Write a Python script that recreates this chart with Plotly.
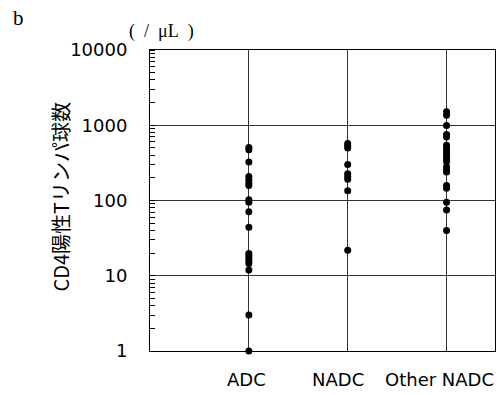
import plotly.graph_objects as go

categories = ["ADC", "NADC", "Other NADC"]
adc_values = [505, 474, 324, 209, 189, 170, 158, 102, 95, 71, 44, 19.8, 18.5, 17.2, 15.8, 14.6, 11.9, 3.0, 1.0]
nadc_values = [570, 530, 499, 302, 227, 209, 192, 135, 21.8]
other_values = [1506, 1360, 990, 751, 698, 541, 499, 455, 419, 386, 356, 328, 278, 256, 239, 158, 146, 95, 75, 40]
y_ticks = [1, 10, 100, 1000, 10000]
y_title = "CD4陽性Tリンパ球数"

series = [adc_values, nadc_values, other_values]
positions = [1, 2, 3]

fig = go.Figure()
for pos, vals in zip(positions, series):
    fig.add_trace(go.Scatter(
        x=[pos] * len(vals), y=vals, mode="markers",
        marker=dict(color="black", size=7),
        cliponaxis=False, showlegend=False, hoverinfo="skip",
    ))

tick_font = dict(family="DejaVu Sans", size=18, color="black")
fig.update_layout(
    width=499, height=395,
    margin=dict(l=150, r=4, t=50, b=44),
    paper_bgcolor="white", plot_bgcolor="white",
    font=dict(family="Noto Sans CJK JP", color="black", size=16),
    xaxis=dict(
        range=[0, 3.49], tickmode="array", tickvals=positions, ticktext=categories,
        showticklabels=False,
        showgrid=True, gridcolor="#333", gridwidth=1,
        showline=True, linecolor="black", linewidth=1, mirror=True,
        ticks="", zeroline=False,
    ),
    yaxis=dict(
        type="log", range=[0, 4], tickmode="array", tickvals=y_ticks,
        ticktext=[str(v) for v in y_ticks],
        showgrid=True, gridcolor="#333", gridwidth=1,
        showline=True, linecolor="black", linewidth=1, mirror=True,
        ticks="", ticklabelstandoff=18, tickfont=tick_font,
        minor=dict(ticks="inside", ticklen=5, tickcolor="black", dtick="D1", showgrid=False),
    ),
)
fig.add_annotation(text=y_title, xref="paper", yref="paper", x=-0.258, y=0.513,
                   xanchor="center", yanchor="middle", textangle=-90, showarrow=False,
                   font=dict(family="Noto Sans CJK JP", size=20, color="black"))
label_shifts = [-2, -10, -7]
for pos, name, sh in zip(positions, categories, label_shifts):
    fig.add_annotation(text=name, x=pos, xref="x", y=-0.096, yref="paper",
                       xanchor="center", yanchor="middle", xshift=sh,
                       showarrow=False, font=tick_font)
fig.add_annotation(text="b", xref="paper", yref="paper", x=-0.403, y=1.1528, xanchor="left", yanchor="top",
                   showarrow=False, font=dict(family="Liberation Serif", size=21))
fig.add_annotation(text="(\u2002/\u2002μL\u2002)", xref="paper", yref="paper", x=-0.066, y=1.063,
                   xanchor="left", yanchor="middle",
                   showarrow=False, font=dict(family="Liberation Serif", size=18))

fig.write_html("out.html", config={"displayModeBar": False},
               post_script="document.body.style.margin='0';document.body.style.overflow='hidden';")
